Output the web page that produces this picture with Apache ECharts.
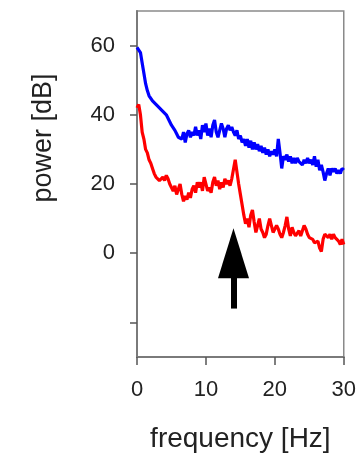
<!DOCTYPE html>
<html>
<head>
<meta charset="utf-8">
<script src="https://cdn.jsdelivr.net/npm/echarts@6/dist/echarts.min.js"></script>
<style>html,body{margin:0;padding:0;background:#fff}#c{width:359px;height:460px}</style>
</head>
<body>
<div id="c"></div>
<script>
// frequency (Hz), step 0.25
var freqStep = 0.25;
var bluePower = [59.5,59,58,55,52,49,47,45.5,45,44,44.5,43,43.5,42,42.5,41,41.5,40,39,38,37,37.5,35.5,34.5,33.5,34,33,35,32,34.5,35.5,33.5,35,34,36.5,34,35.5,33,37,35,37.5,34,36,33.5,37,38.5,35,33.5,35.5,37.5,36,33.5,36,37,35.5,36.5,35,34,35.5,33,34,32,33,31,33,30.5,32.5,30,32,30,31.5,29.5,31,29,30.5,28.5,30,28,29.5,28.5,30,28,33,29,24.5,28,27,28.5,26.5,28,26,27.5,26,27.5,26.5,27,25.5,27,26,27.5,26,27,25.5,28,25,27,24,25.5,23.5,21,23,24.5,22.5,24.5,23.5,24.5,23,24,23,24.5,24];
var redPower = [42,43,40,35,33,30,29,27,26,24.5,23,22,21.5,21,21.5,22,21,22.5,21.5,20,19,18,19.5,17,18.5,20,17,15,16.5,15.5,17.5,16,18.5,19.5,17.5,20.5,19,20.5,18,22,21.5,18,19,17.5,20.5,22,19.5,21,18.5,20.5,19,21.5,20,21,19.5,21.5,22,27,23.5,20,17,14,11,8.5,10,7.5,11,12.5,9,6,8,10,7,6,4.5,5.5,8,10,8,6,7,8,7,5.5,4.5,6,8,10.5,7,5,7.5,6,5,5.5,6.5,5,6.5,8,7,5.5,4.5,5,4,3,2.5,3.5,1.5,0.5,4,5.5,6,4.5,5.5,4,5.5,4.5,4,3.5,2.5,4,2.5];
var xTicks = [0,10,20,30];
var yTickValues = [-20,0,20,40,60];
var yLabelValues = [0,20,40,60];
var arrowFreq = 14;
var arrowFrom = -16;
var arrowHeadCenter = 0;

function pairs(arr){ return arr.map(function(v,i){ return [i*freqStep, v]; }); }

var chart = echarts.init(document.getElementById('c'), null, {renderer:'canvas'});
var font = 'Liberation Sans, Arial, sans-serif';
chart.setOption({
  animation:false,
  grid:{left:137,right:12,top:11,bottom:103,show:true,borderColor:'#8a8a8a',borderWidth:1.5,backgroundColor:'transparent'},
  xAxis:{type:'value',min:xTicks[0],max:xTicks[xTicks.length-1],interval:10,
    name:'frequency [Hz]',nameLocation:'middle',nameGap:68,
    nameTextStyle:{fontFamily:font,fontSize:28,color:'#222'},
    axisLine:{onZero:false,lineStyle:{color:'#7a7a7a',width:2}},
    axisTick:{length:8,lineStyle:{color:'#555',width:1.5}},
    axisLabel:{margin:22,fontFamily:font,fontSize:22,color:'#222'},
    splitLine:{show:false}},
  yAxis:{type:'value',min:-30,max:70,
    name:'power [dB]',nameLocation:'middle',nameGap:80,
    nameTextStyle:{fontFamily:font,fontSize:27,color:'#222',padding:[0,0,0,92]},
    axisLine:{show:true,onZero:false,lineStyle:{color:'#7a7a7a',width:2}},
    axisTick:{show:true,length:7,customValues:yTickValues,lineStyle:{color:'#555',width:1.5}},
    axisLabel:{margin:22,fontFamily:font,fontSize:22,color:'#222',customValues:yLabelValues},
    splitLine:{show:false}},
  series:[
    {type:'line',data:pairs(bluePower),showSymbol:false,lineStyle:{color:'#0000ff',width:3.2},itemStyle:{color:'#0000ff'}},
    {type:'line',data:pairs(redPower),showSymbol:false,lineStyle:{color:'#ff0000',width:3.2},itemStyle:{color:'#ff0000'},
     markLine:{silent:true,symbol:['none','triangle'],symbolSize:[31,50],label:{show:false},
       lineStyle:{color:'#000',width:6,type:'solid'},
       data:[[{coord:[arrowFreq,arrowFrom]},{coord:[arrowFreq,arrowHeadCenter]}]]}}
  ]
});
</script>
</body>
</html>
